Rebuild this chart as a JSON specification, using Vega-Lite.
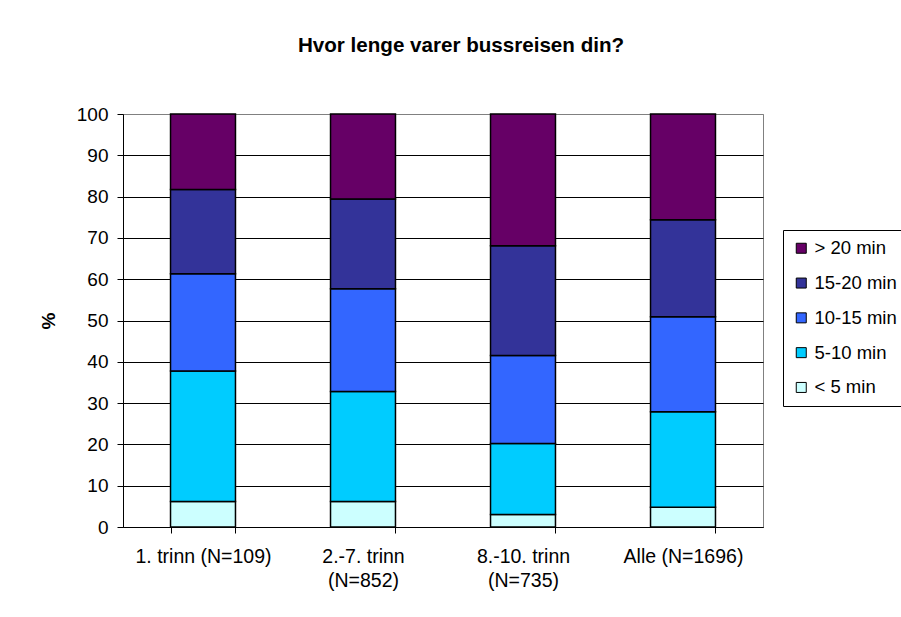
{
  "$schema": "https://vega.github.io/schema/vega-lite/v6.json",
  "autosize": "none",
  "width": 640,
  "height": 413,
  "padding": {"left": 123, "top": 114, "right": 138, "bottom": 90},
  "background": "white",
  "title": {
    "text": "Hvor lenge varer bussreisen din?",
    "font": "Liberation Sans",
    "fontSize": 20.6,
    "fontWeight": "bold",
    "color": "#000000",
    "anchor": "middle",
    "baseline": "alphabetic",
    "offset": 32,
    "dx": 18
  },
  "data": {
    "values": [
      {"Gruppe": "1. trinn (N=109)", "Varighet": "< 5 min", "Prosent": 6.2},
      {"Gruppe": "1. trinn (N=109)", "Varighet": "5-10 min", "Prosent": 31.6},
      {"Gruppe": "1. trinn (N=109)", "Varighet": "10-15 min", "Prosent": 23.5},
      {"Gruppe": "1. trinn (N=109)", "Varighet": "15-20 min", "Prosent": 20.4},
      {"Gruppe": "1. trinn (N=109)", "Varighet": "> 20 min", "Prosent": 18.3},
      {"Gruppe": "2.-7. trinn (N=852)", "Varighet": "< 5 min", "Prosent": 6.2},
      {"Gruppe": "2.-7. trinn (N=852)", "Varighet": "5-10 min", "Prosent": 26.6},
      {"Gruppe": "2.-7. trinn (N=852)", "Varighet": "10-15 min", "Prosent": 24.9},
      {"Gruppe": "2.-7. trinn (N=852)", "Varighet": "15-20 min", "Prosent": 21.7},
      {"Gruppe": "2.-7. trinn (N=852)", "Varighet": "> 20 min", "Prosent": 20.6},
      {"Gruppe": "8.-10. trinn (N=735)", "Varighet": "< 5 min", "Prosent": 3.0},
      {"Gruppe": "8.-10. trinn (N=735)", "Varighet": "5-10 min", "Prosent": 17.2},
      {"Gruppe": "8.-10. trinn (N=735)", "Varighet": "10-15 min", "Prosent": 21.3},
      {"Gruppe": "8.-10. trinn (N=735)", "Varighet": "15-20 min", "Prosent": 26.6},
      {"Gruppe": "8.-10. trinn (N=735)", "Varighet": "> 20 min", "Prosent": 31.9},
      {"Gruppe": "Alle (N=1696)", "Varighet": "< 5 min", "Prosent": 4.8},
      {"Gruppe": "Alle (N=1696)", "Varighet": "5-10 min", "Prosent": 23.1},
      {"Gruppe": "Alle (N=1696)", "Varighet": "10-15 min", "Prosent": 23.0},
      {"Gruppe": "Alle (N=1696)", "Varighet": "15-20 min", "Prosent": 23.5},
      {"Gruppe": "Alle (N=1696)", "Varighet": "> 20 min", "Prosent": 25.6}
    ]
  },
  "transform": [
    {"calculate": "indexof(['< 5 min', '5-10 min', '10-15 min', '15-20 min', '> 20 min'], datum.Varighet)", "as": "Rekkefolge"}
  ],
  "mark": {"type": "bar", "stroke": "#000000", "strokeWidth": 1.5},
  "encoding": {
    "x": {
      "field": "Gruppe",
      "type": "nominal",
      "sort": null,
      "scale": {"paddingInner": 0.594, "paddingOuter": 0.297},
      "axis": {
        "title": null,
        "labelAngle": 0,
        "tickBand": "extent",
        "tickSize": 6,
        "tickColor": "#000000",
        "domainColor": "#000000",
        "labelColor": "#000000",
        "labelFontSize": 19.5,
        "labelPadding": 14,
        "labelLineHeight": 24,
        "labelExpr": "length(datum.label) > 17 ? split(replace(datum.label, ' (N', '|(N'), '|') : datum.label"
      }
    },
    "y": {
      "field": "Prosent",
      "type": "quantitative",
      "stack": "zero",
      "scale": {"domain": [0, 100], "nice": false},
      "axis": {
        "title": "%",
        "titleFontSize": 19,
        "titleFontWeight": "bold",
        "titleColor": "#000000",
        "titlePadding": 18,
        "values": [0, 10, 20, 30, 40, 50, 60, 70, 80, 90, 100],
        "tickSize": 6,
        "tickColor": "#000000",
        "domainColor": "#000000",
        "labelColor": "#000000",
        "labelFontSize": 19,
        "labelPadding": 9,
        "grid": true,
        "gridColor": {"condition": {"test": "datum.value === 100", "value": "#808080"}, "value": "#000000"},
        "gridOpacity": 1,
        "gridWidth": 1
      }
    },
    "color": {
      "field": "Varighet",
      "type": "nominal",
      "scale": {
        "domain": ["> 20 min", "15-20 min", "10-15 min", "5-10 min", "< 5 min"],
        "range": ["#660066", "#333399", "#3366FF", "#00CCFF", "#CCFFFF"]
      },
      "legend": {
        "title": null,
        "orient": "none",
        "legendX": 660,
        "legendY": 116,
        "direction": "vertical",
        "symbolType": "square",
        "symbolSize": 100,
        "symbolStrokeColor": "#000000",
        "symbolStrokeWidth": 1,
        "symbolOpacity": 1,
        "labelFontSize": 18.5,
        "labelColor": "#000000",
        "labelOffset": 4,
        "rowPadding": 15.8,
        "padding": 9,
        "strokeColor": "#000000",
        "fillColor": "#FFFFFF"
      }
    },
    "order": {"field": "Rekkefolge", "sort": "ascending"}
  },
  "config": {
    "font": "Liberation Sans",
    "view": {"stroke": "#808080", "strokeWidth": 1},
    "axis": {"labelFont": "Liberation Sans", "titleFont": "Liberation Sans"},
    "legend": {"labelFont": "Liberation Sans"}
  }
}
